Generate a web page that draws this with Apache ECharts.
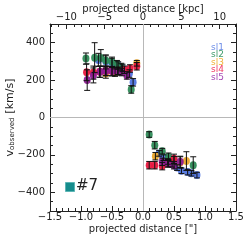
<!DOCTYPE html>
<html><head><meta charset="utf-8">
<script src="https://cdn.jsdelivr.net/npm/echarts@6/dist/echarts.min.js"></script>
<style>html,body{margin:0;padding:0;background:#fff}#c{width:249px;height:249px}</style>
</head><body><div id="c"></div>
<script>
// data: [projected distance (arcsec), v_observed (km/s), error (km/s)]
const seriesNames = ['sl1', 'sl2', 'sl3', 'sl4', 'sl5'];
const sl1 = [[-0.72,308,35],[-0.6,300,30],[-0.5,292,25],[-0.4,278,20],[-0.33,265,20],[-0.22,235,20],[-0.16,188,20],
  [0.26,-192,15],[0.33,-215,15],[0.4,-235,15],[0.47,-250,15],[0.55,-268,15],[0.62,-285,15],[0.72,-292,15],[0.78,-298,15],[0.87,-308,15]];
const sl2 = [[-0.92,315,30],[-0.78,320,80],[-0.68,318,45],[-0.6,305,30],[-0.5,298,25],[-0.42,285,20],[-0.35,270,20],[-0.19,150,20],
  [0.1,-91,15],[0.19,-148,20],[0.31,-180,15],[0.41,-210,20],[0.5,-228,20],[0.81,-255,45]];
const sl3 = [[-0.6,235,25],[-0.45,240,20],[-0.1,290,15],
  [0.2,-207,20],[0.6,-240,30],[0.7,-233,50]];
const sl4 = [[-0.91,242,45],[-0.8,240,35],[-0.7,245,30],[-0.6,250,25],[-0.5,248,25],[-0.4,250,20],[-0.3,255,20],[-0.21,262,20],[-0.1,274,20],
  [0.1,-255,20],[0.19,-255,20],[0.31,-260,20],[0.4,-245,20],[0.5,-221,25]];
const sl5 = [[-0.9,200,55],[-0.8,225,40],[-0.69,245,30],[-0.6,248,25],[-0.5,248,25],[-0.41,246,20],[-0.34,243,20],[-0.26,225,20],
  [0.31,-237,20],[0.41,-245,20],[0.5,-255,20],[0.6,-237,30]];
const seriesData = [sl1, sl2, sl3, sl4, sl5];
const markerColors = ['#4f74e0', '#2e8b57', '#eba52a', '#e8163e', '#8e1c94'];
const legendColors = ['#6f8fe8', '#3f9c6c', '#f2b23a', '#f03a64', '#a547b5'];
const yTickLabels = [-400, -200, 0, 200, 400];
const yMinorTicks = [-450,-400,-350,-300,-250,-200,-150,-100,-50,0,50,100,150,200,250,300,350,400,450];
const kpcPerArcsec = 8.09;
const topTickLabels = [-10, -5, 0, 5, 10];
const topMinorTicks = [-12,-11,-10,-9,-8,-7,-6,-5,-4,-3,-2,-1,0,1,2,3,4,5,6,7,8,9,10,11,12];
const zeroRef = 0;
const objectLabel = '#7';

const FONT = 'DejaVu Sans';
const minus = s => String(s).replace('-', '\u2212');
const chart = echarts.init(document.getElementById('c'), null, {renderer: 'canvas'});

const scatter = seriesNames.map((n, i) => ({
  name: n, type: 'scatter', data: seriesData[i].map(d => [d[0], d[1]]),
  symbol: 'circle', symbolSize: [7, 8], xAxisIndex: 0, yAxisIndex: 0,
  itemStyle: {color: markerColors[i], opacity: 0.95}, z: 3
}));
const errs = seriesNames.map((n, i) => ({
  name: n, type: 'custom', data: seriesData[i], xAxisIndex: 0, yAxisIndex: 0, z: 4, silent: true,
  renderItem: (params, api) => {
    const x = api.value(0), v = api.value(1), e = api.value(2);
    const t = api.coord([x, v + e]), b = api.coord([x, v - e]);
    const st = {stroke: '#111', lineWidth: 1};
    return {type: 'group', children: [
      {type: 'line', shape: {x1: t[0], y1: t[1], x2: b[0], y2: b[1]}, style: st},
      {type: 'line', shape: {x1: t[0]-3, y1: t[1], x2: t[0]+3, y2: t[1]}, style: st},
      {type: 'line', shape: {x1: b[0]-3, y1: b[1], x2: b[0]+3, y2: b[1]}, style: st}
    ]};
  }
}));
const zeroLines = {
  type: 'line', data: [], xAxisIndex: 0, yAxisIndex: 0, silent: true, z: 1,
  markLine: {symbol: 'none', silent: true, label: {show: false},
    lineStyle: {color: '#b8b8b8', width: 1, type: 'solid'},
    data: [{xAxis: zeroRef, lineStyle: {type: 'solid'}}, {yAxis: zeroRef, lineStyle: {type: 'solid'}}]}
};

const axLine = {show: true, onZero: false, lineStyle: {color: '#222', width: 1}};
const noLine = {show: false, onZero: false};
const lbl = {color: '#222', fontSize: 10, fontFamily: FONT};
const nameStyle = {color: '#222', fontSize: 10, fontFamily: FONT};
chart.setOption({
  animation: false,
  grid: {left: 50, right: 13, top: 24, bottom: 38, outerBoundsMode: 'none', containLabel: false},
  legend: {
    orient: 'vertical', right: 25, top: 43, itemGap: -1.5, itemWidth: 0, itemHeight: 6, icon: 'none', padding: 0,
    data: seriesNames.map((n, i) => ({name: n, textStyle: {color: legendColors[i]}})),
    textStyle: {fontSize: 9, fontFamily: FONT, padding: 0}
  },
  xAxis: [
    {type: 'value', position: 'bottom', min: -1.5, max: 1.5, interval: 0.5,
     axisLine: axLine, splitLine: {show: false},
     axisTick: {inside: true, length: 5, lineStyle: {color: '#222'}},
     minorTick: {show: true, splitNumber: 5, length: 3, lineStyle: {color: '#222'}},
     axisLabel: Object.assign({margin: 1, formatter: v => minus(v.toFixed(1))}, lbl),
     name: 'projected distance ["]', nameLocation: 'middle', nameGap: 13, nameMoveOverlap: false, nameTextStyle: nameStyle},
    {type: 'value', position: 'top', min: -1.5 * kpcPerArcsec, max: 1.5 * kpcPerArcsec,
     axisLine: axLine, splitLine: {show: false},
     axisTick: {inside: true, length: 5, customValues: topTickLabels, lineStyle: {color: '#222'}},
     axisLabel: Object.assign({margin: 2, customValues: topTickLabels, formatter: v => minus(v)}, lbl),
     name: 'projected distance [kpc]', nameLocation: 'middle', nameGap: 10, nameMoveOverlap: false, nameTextStyle: nameStyle},
    {type: 'value', position: 'top', min: -1.5 * kpcPerArcsec, max: 1.5 * kpcPerArcsec,
     axisLine: noLine, splitLine: {show: false}, axisLabel: {show: false},
     axisTick: {inside: true, length: 3, customValues: topMinorTicks, lineStyle: {color: '#222'}}}
  ],
  yAxis: [
    {type: 'value', position: 'left', min: -500, max: 500,
     axisLine: axLine, splitLine: {show: false},
     axisTick: {inside: true, length: 5, customValues: yTickLabels, lineStyle: {color: '#222'}},
     axisLabel: Object.assign({margin: 5, customValues: yTickLabels, formatter: v => minus(v)}, lbl),
     name: '{v|v}{s|observed} {v|[km/s]}', nameLocation: 'middle', nameGap: 34, nameRotate: 90, nameMoveOverlap: false,
     nameTextStyle: {color: '#222', fontFamily: FONT,
       rich: {v: {fontSize: 11, fontFamily: FONT, color: '#222'},
              s: {fontSize: 7, fontFamily: FONT, color: '#222', padding: [5, 0, 0, 0]}}}},
    {type: 'value', position: 'right', min: -500, max: 500,
     axisLine: axLine, splitLine: {show: false}, axisLabel: {show: false},
     axisTick: {inside: true, length: 5, customValues: yTickLabels, lineStyle: {color: '#222'}}},
    {type: 'value', position: 'left', min: -500, max: 500,
     axisLine: noLine, splitLine: {show: false}, axisLabel: {show: false},
     axisTick: {inside: true, length: 3, customValues: yMinorTicks, lineStyle: {color: '#222'}}},
    {type: 'value', position: 'right', min: -500, max: 500,
     axisLine: noLine, splitLine: {show: false}, axisLabel: {show: false},
     axisTick: {inside: true, length: 3, customValues: yMinorTicks, lineStyle: {color: '#222'}}}
  ],
  graphic: [
    {type: 'rect', left: 65, top: 182, shape: {width: 9, height: 9},
     style: {fill: '#168c8c', stroke: '#5cb5b5', lineWidth: 1}},
    {type: 'text', left: 76, top: 179, style: {text: objectLabel, fontSize: 15, fontFamily: FONT, fill: '#222'}}
  ],
  series: [zeroLines].concat(scatter, errs)
});
</script></body></html>
